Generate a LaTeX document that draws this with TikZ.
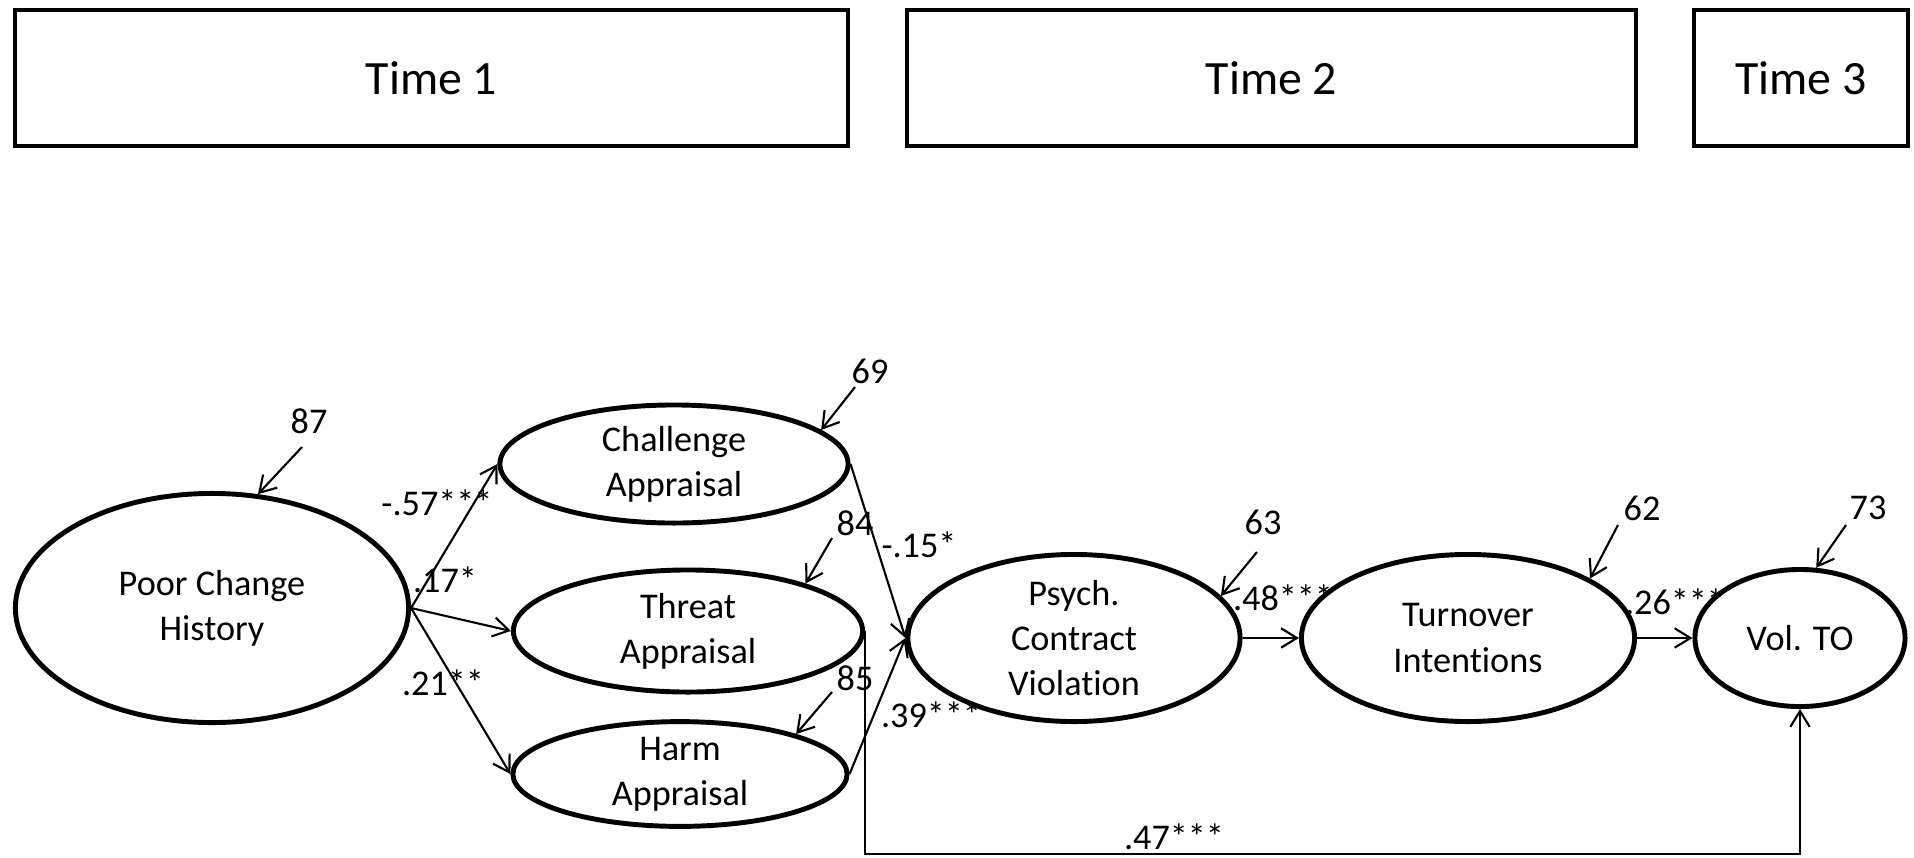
\documentclass[tikz,border=0pt]{standalone}
\usepackage{fontspec}
\setmainfont{Carlito}[Ligatures={NoCommon}]
\usetikzlibrary{arrows.meta,shapes.geometric}

\begin{document}
\begin{tikzpicture}[x=0.01cm,y=-0.01cm,
lv/.style={ellipse,draw,line width=1.4pt,inner sep=0pt,align=center,font=\fontsize{10.3}{12.8}\selectfont},
tbox/.style={draw,line width=1.2pt,minimum height=1.36cm,font=\fontsize{13.6}{16}\selectfont},
link/.style={-{Straight Barb[length=4.5pt,width=5.5pt]},line width=0.6pt},
num/.style={inner sep=1pt,font=\fontsize{10.3}{12.8}\selectfont}]
\useasboundingbox (0,0) rectangle (1914,857);
\node[tbox,minimum width=8.33cm] (t1) at (431.5,78) {Time 1};
\node[tbox,minimum width=7.29cm] (t2) at (1271.5,78) {Time 2};
\node[tbox,minimum width=2.14cm] (t3) at (1801,78) {Time 3};
\node[lv,minimum width=3.93cm,minimum height=2.29cm] (pch) at (212,608) {Poor Change\\History};
\node[lv,minimum width=3.48cm,minimum height=1.18cm] (cha) at (674,464) {Challenge\\Appraisal};
\node[lv,minimum width=3.49cm,minimum height=1.22cm] (thr) at (688,631) {Threat\\Appraisal};
\node[lv,minimum width=3.34cm,minimum height=1.02cm] (hrm) at (680,774) {Harm\\Appraisal};
\node[lv,minimum width=3.32cm,minimum height=1.67cm] (pcv) at (1074,638) {Psych.\\Contract\\Violation};
\node[lv,minimum width=3.33cm,minimum height=1.67cm] (tin) at (1468,638) {Turnover\\Intentions};
\node[lv,minimum width=2.10cm,minimum height=1.37cm] (vto) at (1800,638) {Vol. TO};
\draw[link] (pch.east) -- (cha.west);
\draw[link] (pch.east) -- (thr.west);
\draw[link] (pch.east) -- (hrm.west);
\draw[link] (cha.east) -- (pcv.west);
\draw[link] (hrm.east) -- (pcv.west);
\draw[link] (pcv.east) -- (tin.west);
\draw[link] (tin.east) -- (vto.west);
\coordinate (low) at (1174,854);
\draw[link] (thr.east) |- (low) -| (vto.south);
\node[num] (l57) at (437,503) {-.57***};
\node[num] (l17) at (445,580) {.17*};
\node[num] (l21) at (443,683) {.21**};
\node[num] (l15) at (919,545) {-.15*};
\node[num] (l39) at (931,715) {.39***};
\node[num] (l48) at (1283,598) {.48***};
\node[num] (l26) at (1675,602) {.26***};
\node[num,anchor=south] (l47) at (low) {.47***};
\coordinate (e87) at (302,447);
\coordinate (e69) at (855,387);
\coordinate (e84) at (832,538);
\coordinate (e85) at (832,692);
\coordinate (e63) at (1257,552);
\coordinate (e62) at (1618,525);
\coordinate (e73) at (1846,525);
\draw[link] (e87) -- (pch.68);
\draw[link] (e69) -- (cha.13);
\draw[link] (e84) -- (thr.22);
\draw[link] (e85) -- (hrm.19);
\draw[link] (e63) -- (pcv.16);
\draw[link] (e62) -- (tin.26);
\draw[link] (e73) -- (vto.77);
\node[num] (n87) at (309,421) {87};
\node[num] (n69) at (870,371) {69};
\node[num] (n84) at (855,523) {84};
\node[num] (n85) at (855,678) {85};
\node[num] (n63) at (1263,522) {63};
\node[num] (n62) at (1642,508) {62};
\node[num] (n73) at (1868,508) {73};
\end{tikzpicture}
\end{document}
